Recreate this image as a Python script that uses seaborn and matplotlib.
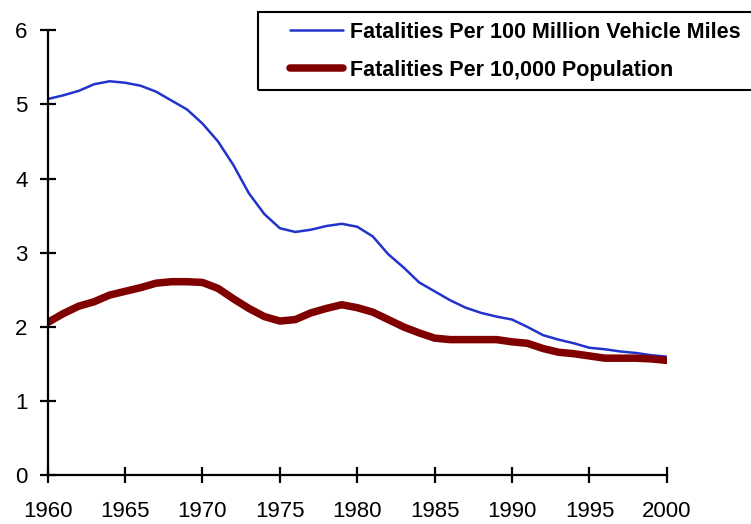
import seaborn as sns
import pandas as pd
import numpy as np
import matplotlib.pyplot as plt
from matplotlib.patches import Rectangle

# values
years = list(range(1960, 2001))
per_vmt = [5.07, 5.12, 5.18, 5.27, 5.31, 5.29, 5.25, 5.17, 5.05, 4.93,
           4.74, 4.50, 4.18, 3.80, 3.52, 3.33, 3.28, 3.31, 3.36, 3.39,
           3.35, 3.22, 2.98, 2.80, 2.60, 2.48, 2.36, 2.26, 2.19, 2.14,
           2.10, 2.00, 1.89, 1.83, 1.78, 1.72, 1.70, 1.67, 1.65, 1.62,
           1.60]
per_pop = [2.06, 2.18, 2.28, 2.34, 2.43, 2.48, 2.53, 2.59, 2.61, 2.61,
           2.60, 2.52, 2.38, 2.25, 2.14, 2.08, 2.10, 2.19, 2.25, 2.30,
           2.26, 2.20, 2.10, 2.00, 1.92, 1.85, 1.83, 1.83, 1.83, 1.83,
           1.80, 1.78, 1.71, 1.66, 1.64, 1.61, 1.58, 1.58, 1.58, 1.57,
           1.55]
label_vmt = 'Fatalities Per 100 Million Vehicle Miles'
label_pop = 'Fatalities Per 10,000 Population'
x_ticks = [1960, 1965, 1970, 1975, 1980, 1985, 1990, 1995, 2000]
y_ticks = [0, 1, 2, 3, 4, 5, 6]

df = pd.DataFrame({'Year': years, 'vmt': per_vmt, 'pop': per_pop})

sns.set_style('white')
plt.rcParams['font.family'] = ['Liberation Sans', 'DejaVu Sans']
plt.rcParams['text.color'] = 'black'

fig = plt.figure(figsize=(7.51, 5.24), dpi=100)
ax = fig.add_axes([0.0635, 0.0926, 0.8245, 0.8501])

sns.lineplot(x='Year', y='vmt', data=df, ax=ax, color='#2233CC', linewidth=1.8, label=label_vmt)
sns.lineplot(x='Year', y='pop', data=df, ax=ax, color='#800000', linewidth=5.4, label=label_pop)

ax.set_xlim(1960, 2000)
ax.set_ylim(0, 6)
ax.set_xticks(x_ticks)
ax.set_yticks(y_ticks)
ax.set_xlabel('')
ax.set_ylabel('')
for side in ['top', 'right']:
    ax.spines[side].set_visible(False)
for side in ['left', 'bottom']:
    ax.spines[side].set_color('black')
    ax.spines[side].set_linewidth(1.6)
ax.tick_params(axis='both', direction='inout', length=11, width=1.6, color='black',
               labelsize=16, labelcolor='black', bottom=True, left=True)
ax.tick_params(axis='x', pad=13)
ax.tick_params(axis='y', pad=9)

# legend without frame, box drawn separately (it runs off the right edge)
ax.legend_.remove()
handles, labels = ax.get_legend_handles_labels()
fig.legend(handles, labels, loc='upper left', bbox_to_anchor=(290 / 751, 1 - 22 / 524),
           frameon=False, borderpad=0, borderaxespad=0, handlelength=2.46,
           handletextpad=0.33, labelspacing=0.78, labelcolor='black',
           prop={'size': 15.5, 'weight': 'bold'})
fig.patches.append(Rectangle((258 / 751, 1 - 90 / 524), 0.7, 78 / 524,
                             transform=fig.transFigure, fill=False,
                             edgecolor='black', linewidth=1.5))

fig.savefig('out.png', dpi=100)
